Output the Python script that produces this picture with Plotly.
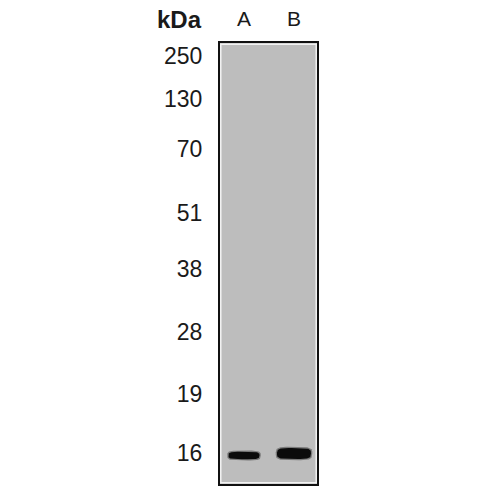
import numpy as np
import plotly.graph_objs as go

# marker ladder (kDa) and how far each one ran down the membrane
marker_labels = ["250", "130", "70", "51", "38", "28", "19", "16"]
marker_migration = [13, 56, 105.5, 170, 225.5, 288.5, 350.5, 410]

lanes = ["A", "B"]
band_lane = [0, 1]
band_migration = [412.5, 410.5]
band_width = [0.62, 0.68]       # in lane units
band_thickness = [7.5, 11]      # in migration units

gel_length = 441
gel_color = "#bdbdbd"
font_family = "Liberation Sans, Arial, sans-serif"


def band_outline(cx, cy, w, h, n=4, pts=80):
    t = np.linspace(0, 2 * np.pi, pts)
    c, s = np.cos(t), np.sin(t)
    x = cx + (w / 2) * np.sign(c) * np.abs(c) ** (2 / n)
    y = cy + (h / 2) * np.sign(s) * np.abs(s) ** (2 / n)
    return x, y


fig = go.Figure()

for lane, pos, w, h in zip(band_lane, band_migration, band_width, band_thickness):
    # soft halo then the dark core
    x, y = band_outline(lane, pos, w + 0.05, h + 2.5)
    fig.add_trace(go.Scatter(x=x, y=y, mode="lines", fill="toself",
                             fillcolor="rgba(40,40,40,0.45)", line=dict(width=0),
                             hoverinfo="skip", showlegend=False))
    x, y = band_outline(lane, pos, w, h)
    fig.add_trace(go.Scatter(x=x, y=y, mode="lines", fill="toself",
                             fillcolor="#0b0b0b", line=dict(width=0),
                             hoverinfo="skip", showlegend=False))

fig.update_layout(
    width=500, height=500,
    margin=dict(l=0, r=0, t=0, b=0),
    paper_bgcolor="white",
    plot_bgcolor=gel_color,
    font=dict(family=font_family, color="#1a1a1a"),
    xaxis=dict(domain=[0.44, 0.634], range=[-0.48, 1.46],
               tickvals=band_lane, ticktext=lanes, side="top",
               tickfont=dict(size=21), ticks="", ticklabelstandoff=7,
               showgrid=False, zeroline=False,
               showline=True, mirror=True, linecolor="#111", linewidth=2),
    yaxis=dict(domain=[0.032, 0.914], range=[gel_length, 0],
               tickvals=marker_migration, ticktext=marker_labels,
               tickfont=dict(size=23), ticks="", ticklabelstandoff=11,
               showgrid=False, zeroline=False,
               showline=True, mirror=True, linecolor="#111", linewidth=2),
    annotations=[dict(text="<b>kDa</b>", xref="paper", yref="paper",
                      x=0.408, y=0.962, xanchor="right", yanchor="middle",
                      showarrow=False, font=dict(size=24, color="#1a1a1a"))],
    shapes=[dict(type="rect", xref="x domain", yref="y domain",
                 x0=0.008, x1=0.992, y0=0.003, y1=0.997,
                 line=dict(color="#f2f2f2", width=1.5), layer="above")],
)

fig.write_html("out.html", config={"displayModeBar": False},
               post_script="document.body.style.margin='0';")
